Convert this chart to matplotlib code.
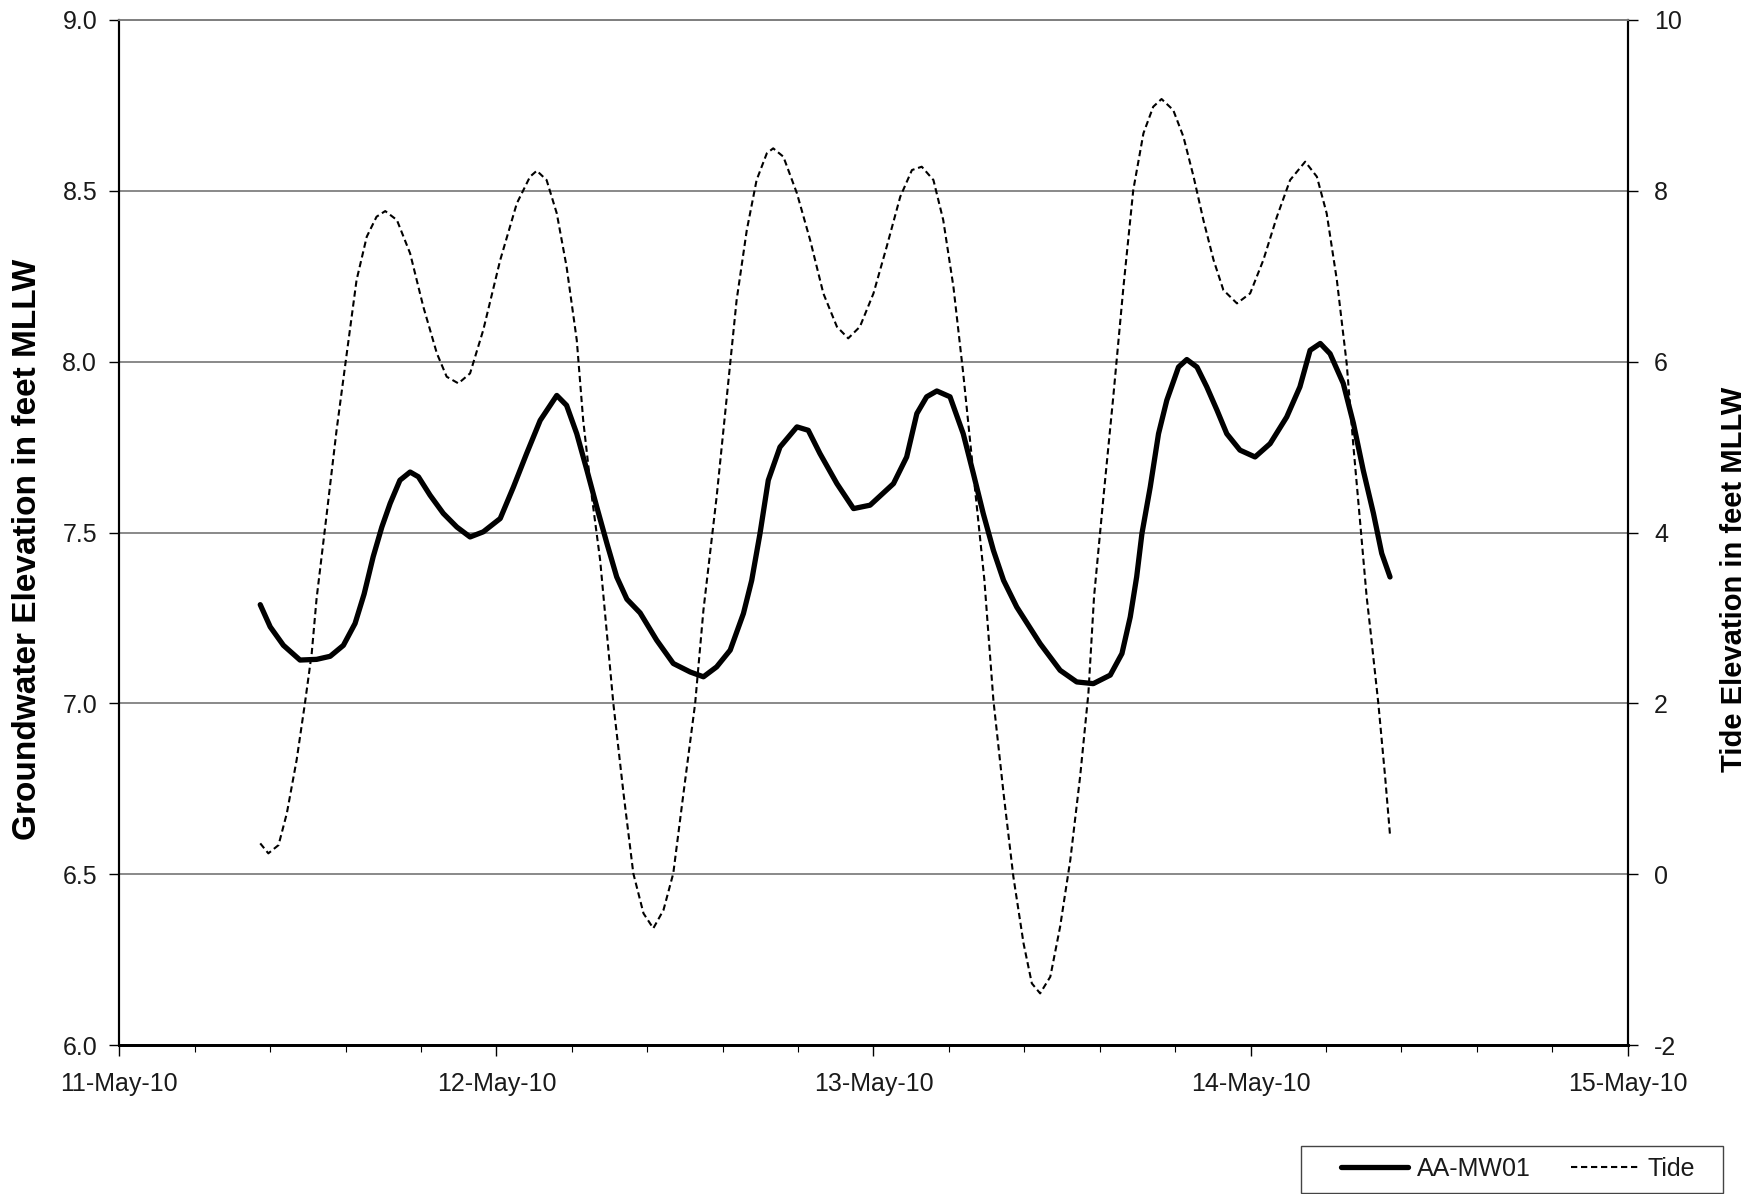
import pandas as pd
import matplotlib
matplotlib.use("Agg")
import matplotlib.pyplot as plt
import matplotlib.dates as mdates
from matplotlib.lines import Line2D
from matplotlib.patches import Rectangle
from matplotlib.ticker import MultipleLocator

plt.rcParams["font.family"] = ["Liberation Sans", "DejaVu Sans"]
plt.rcParams["axes.unicode_minus"] = False

# data (days after 11-May-10 00:00)
# ---

gw_days = [0.3735, 0.400, 0.435, 0.479, 0.523, 0.559, 0.594, 0.625, 0.649, 0.673,
           0.696, 0.718, 0.744, 0.771, 0.793, 0.824, 0.859, 0.895, 0.930, 0.965,
           1.010, 1.045, 1.080, 1.116, 1.160, 1.186, 1.213, 1.240, 1.266, 1.293,
           1.319, 1.346, 1.381, 1.425, 1.469, 1.514, 1.549, 1.584, 1.620, 1.655,
           1.677, 1.699, 1.721, 1.752, 1.797, 1.827, 1.858, 1.903, 1.947, 1.991,
           2.053, 2.088, 2.115, 2.141, 2.168, 2.203, 2.238, 2.265, 2.291, 2.318,
           2.345, 2.380, 2.442, 2.495, 2.539, 2.583, 2.628, 2.659, 2.681, 2.698,
           2.712, 2.734, 2.756, 2.778, 2.809, 2.831, 2.858, 2.884, 2.911, 2.937,
           2.972, 3.012, 3.052, 3.096, 3.131, 3.158, 3.185, 3.211, 3.246, 3.273,
           3.299, 3.326, 3.348, 3.370]
gw_level = [7.289, 7.224, 7.170, 7.127, 7.129, 7.138, 7.170, 7.234, 7.320, 7.429,
            7.516, 7.585, 7.653, 7.677, 7.663, 7.609, 7.556, 7.516, 7.487, 7.502,
            7.541, 7.633, 7.731, 7.828, 7.901, 7.872, 7.789, 7.682, 7.575, 7.468,
            7.370, 7.305, 7.265, 7.185, 7.117, 7.092, 7.078, 7.107, 7.156, 7.263,
            7.360, 7.497, 7.653, 7.750, 7.809, 7.799, 7.731, 7.643, 7.570, 7.580,
            7.643, 7.721, 7.848, 7.897, 7.914, 7.897, 7.789, 7.672, 7.556, 7.448,
            7.360, 7.282, 7.175, 7.097, 7.063, 7.058, 7.083, 7.146, 7.253, 7.370,
            7.497, 7.633, 7.789, 7.887, 7.984, 8.006, 7.984, 7.926, 7.858, 7.789,
            7.741, 7.721, 7.760, 7.838, 7.926, 8.033, 8.053, 8.023, 7.936, 7.819,
            7.682, 7.556, 7.439, 7.370]

tide_days = [0.3735, 0.395, 0.422, 0.444, 0.470, 0.492, 0.510, 0.523, 0.550, 0.576,
             0.603, 0.629, 0.656, 0.682, 0.705, 0.736, 0.771, 0.806, 0.842, 0.868,
             0.899, 0.930, 0.965, 1.010, 1.054, 1.089, 1.107, 1.133, 1.160, 1.186,
             1.213, 1.230, 1.253, 1.275, 1.310, 1.337, 1.363, 1.390, 1.416, 1.443,
             1.469, 1.496, 1.527, 1.549, 1.584, 1.611, 1.637, 1.664, 1.690, 1.717,
             1.734, 1.761, 1.797, 1.832, 1.867, 1.903, 1.933, 1.964, 2.000, 2.035,
             2.071, 2.102, 2.128, 2.159, 2.185, 2.212, 2.238, 2.265, 2.294, 2.318,
             2.345, 2.371, 2.398, 2.420, 2.442, 2.469, 2.495, 2.522, 2.548, 2.570,
             2.585, 2.610, 2.636, 2.663, 2.689, 2.716, 2.742, 2.764, 2.795, 2.822,
             2.849, 2.875, 2.902, 2.928, 2.964, 2.999, 3.034, 3.070, 3.105, 3.145,
             3.176, 3.202, 3.229, 3.255, 3.273, 3.291, 3.308, 3.317, 3.339, 3.357,
             3.370]
tide_level = [0.363, 0.246, 0.343, 0.714, 1.338, 2.001, 2.586, 3.230, 4.224, 5.199,
              6.096, 6.954, 7.461, 7.695, 7.761, 7.656, 7.266, 6.642, 6.096, 5.823,
              5.745, 5.862, 6.369, 7.188, 7.851, 8.163, 8.233, 8.124, 7.734, 7.110,
              6.252, 5.316, 4.419, 3.678, 2.001, 0.948, 0.012, -0.456, -0.631, -0.417,
              0.012, 0.948, 2.001, 3.093, 4.419, 5.589, 6.720, 7.539, 8.124, 8.436,
              8.495, 8.397, 7.968, 7.422, 6.798, 6.408, 6.272, 6.408, 6.798, 7.344,
              7.929, 8.241, 8.280, 8.124, 7.656, 6.876, 5.862, 4.692, 3.450, 2.040,
              0.948, -0.027, -0.807, -1.275, -1.392, -1.197, -0.612, 0.168, 1.143, 2.118,
              3.250, 4.419, 5.589, 6.876, 8.007, 8.671, 8.982, 9.072, 8.943, 8.631,
              8.163, 7.656, 7.188, 6.837, 6.681, 6.798, 7.188, 7.695, 8.124, 8.339,
              8.163, 7.734, 6.954, 5.979, 5.004, 4.107, 3.249, 2.898, 2.001, 1.143,
              0.460]

start = pd.Timestamp("2010-05-11")
gw_time = start + pd.to_timedelta(gw_days, unit="D")
tide_time = start + pd.to_timedelta(tide_days, unit="D")

# plot
# ---

tide_dash = (0, (3, 1.8))
txt = "#1a1a1a"

fig = plt.figure(figsize=(17.51, 11.94), dpi=100)
ax1 = fig.add_axes([0.0682, 0.1245, 0.8613, 0.859])
ax2 = ax1.twinx()

ax1.plot(gw_time, gw_level, color="black", linewidth=3.8, solid_capstyle="round",
         solid_joinstyle="round", zorder=3)
ax2.plot(tide_time, tide_level, color="black", linewidth=1.5, linestyle=tide_dash)

ax1.set_xlim(pd.Timestamp("2010-05-11"), pd.Timestamp("2010-05-15"))
ax1.set_ylim(6.0, 9.0)
ax2.set_ylim(-2, 10)
ax1.set_yticks([6.0, 6.5, 7.0, 7.5, 8.0, 8.5, 9.0])
ax1.yaxis.set_major_formatter(plt.FormatStrFormatter("%.1f"))
ax2.set_yticks([-2, 0, 2, 4, 6, 8, 10])

# one major tick a day, minor ticks every fifth of a day
ax1.xaxis.set_major_locator(mdates.DayLocator())
ax1.xaxis.set_minor_locator(MultipleLocator(0.2))
ax1.xaxis.set_major_formatter(mdates.DateFormatter("%d-%b-%y"))

ax1.grid(True, axis="y", color="#808080", linewidth=1.3)
ax1.set_axisbelow(True)

ax1.tick_params(axis="y", direction="out", length=7, width=1, pad=9, labelsize=18, labelcolor=txt)
ax2.tick_params(axis="y", direction="out", length=7, width=1, pad=12, labelsize=18, labelcolor=txt)
ax1.tick_params(axis="x", which="major", direction="out", length=8, width=1, pad=11, labelsize=18, labelcolor=txt)
ax1.tick_params(axis="x", which="minor", direction="out", length=5, width=0.8)

for ax in (ax1, ax2):
    ax.spines["top"].set_color("#808080")
    ax.spines["top"].set_linewidth(1.3)
    ax.spines["left"].set_linewidth(1.5)
    ax.spines["right"].set_linewidth(1.5)
    ax.spines["bottom"].set_linewidth(2)

# axis titles, centred on the spots they take in the reference
ax1.set_ylabel("Groundwater Elevation in feet MLLW", fontsize=24, fontweight="bold",
               va="center", ha="center")
ax1.yaxis.set_label_coords(-0.0607, 0.4834)
ax2.set_ylabel("Tide Elevation in feet MLLW", fontsize=21, fontweight="bold", rotation=90,
               va="center", ha="center")
ax2.yaxis.set_label_coords(1.0707, 0.454)

# legend in a plain box at the bottom right
fig.patches.append(Rectangle((1301 / 1751, 1 - 1193 / 1194), 422 / 1751, 47 / 1194,
                             transform=fig.transFigure, fill=False, edgecolor="#444444", linewidth=1))
handles = [
    Line2D([], [], color="black", linewidth=3.8, solid_capstyle="round"),
    Line2D([], [], color="black", linewidth=1.5, linestyle=tide_dash),
]
fig.legend(handles, ["AA-MW01", "Tide"], ncol=2, frameon=False, fontsize=18,
           loc="center", bbox_to_anchor=(1518 / 1751, 1 - 1169 / 1194),
           handlelength=2.7, handletextpad=0.36, columnspacing=1.6, labelcolor=txt)

fig.savefig("out.png", dpi=100)
plt.close()
